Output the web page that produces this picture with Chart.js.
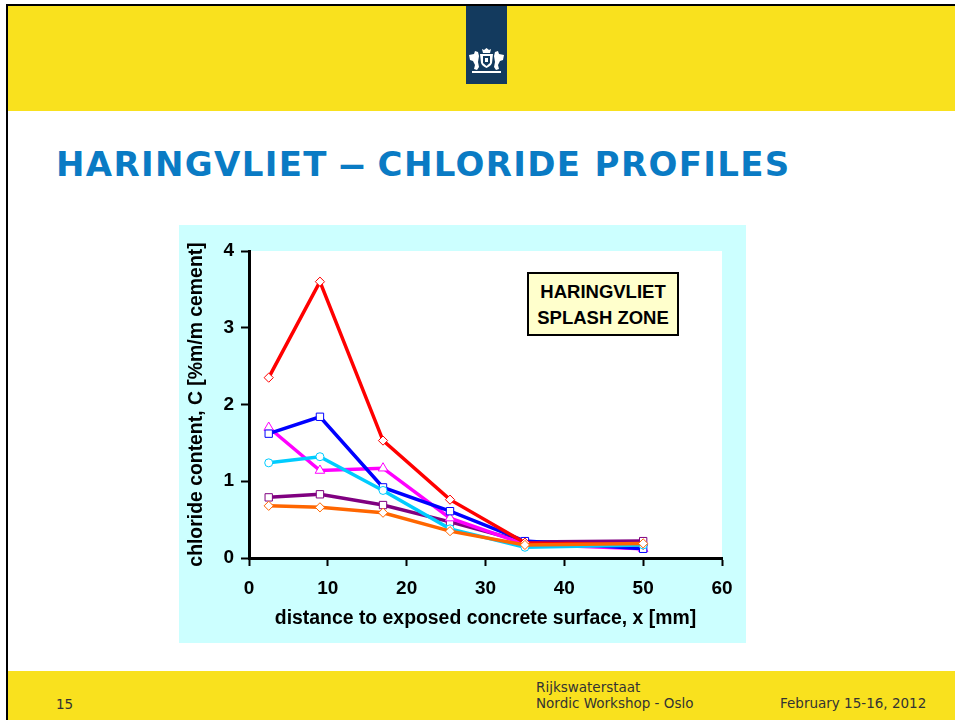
<!DOCTYPE html>
<html><head><meta charset="utf-8">
<script src="https://cdn.jsdelivr.net/npm/chart.js@4"></script>
<style>
html,body{margin:0;padding:0;background:#fff;width:955px;height:720px;overflow:hidden}
div{position:absolute;box-sizing:border-box}
#frameTop{left:6px;top:4px;width:949px;height:2px;background:#000}
#head{left:8px;top:6px;width:947px;height:105px;background:#f9e11e}
#frameLeft{left:6px;top:4px;width:2px;height:716px;background:#000}
#logo{left:466px;top:6px;width:41px;height:78px;background:#133a5e}
#foot{left:8px;top:671px;width:947px;height:49px;background:#f9e11e}
#title{left:56px;top:144px;font:bold 34px "DejaVu Sans",sans-serif;color:#0a7bc4;white-space:nowrap;letter-spacing:1.35px}
#title span{display:inline-block;transform:scaleX(1.7);margin:0 2.5px}
#panel{left:179px;top:225px;width:567px;height:418px;background:#ccffff}
canvas{position:absolute;left:179px;top:225px}
#note{left:527px;top:272px;width:152px;height:64px;background:#ffffcc;border:2px solid #000;font:bold 18.5px/26px "Liberation Sans",Arial,sans-serif;text-align:center;padding-top:5px;color:#000;white-space:nowrap}
.f{font:13.5px/16px "DejaVu Sans",sans-serif;color:#333;white-space:nowrap}
</style></head><body>
<div id="frameTop"></div><div id="head"></div><div id="frameLeft"></div>
<div id="logo"><svg width="41" height="78" viewBox="0 0 41 78">
<g fill="#fff">
<path d="M16 43l2 1 2.500-2 2.500 2 2-1-1 4h-7z"/>
<path d="M14 48h13l-1 9c-1 3-4 4-5.500 5-1.500-1-4.500-2-5.500-5z"/>
<path d="M3 49l5-1 1-3 3 1 1 4-1 6 1 5-2 3-3-1 1-4-2-4-3-1zM38 49l-5-1-1-3-3 1-1 4 1 6-1 5 2 3 3-1-1-4 2-4 3-1z"/>
<path d="M6 65h29v2H6z"/>
</g>
<path d="M17 50h7v7l-3.500 3-3.500-3z" fill="#133a5e"/><path d="M19 52h3v4h-3z" fill="#fff"/></svg></div>
<div id="title">HARINGVLIET <span>–</span> CHLORIDE PROFILES</div>
<div id="panel"></div>
<canvas id="c" width="567" height="418" style="width:567px;height:418px"></canvas>
<div id="note">HARINGVLIET<br>SPLASH ZONE</div>
<div id="foot"></div>
<div class="f" style="left:56px;top:696px">15</div>
<div class="f" style="left:536px;top:679px">Rijkswaterstaat<br>Nordic Workshop - Oslo</div>
<div class="f" style="left:780px;top:695px">February 15-16, 2012</div>
<script>
const distance = [2.5, 9, 17, 25.5, 35, 50];
const red = [2.35, 3.6, 1.53, 0.76, 0.2, 0.17];
const blue = [1.62, 1.84, 0.92, 0.61, 0.22, 0.12];
const magenta = [1.7, 1.14, 1.17, 0.52, 0.18, 0.12];
const cyan = [1.24, 1.32, 0.88, 0.38, 0.14, 0.17];
const purple = [0.79, 0.83, 0.69, 0.47, 0.21, 0.22];
const orange = [0.68, 0.66, 0.59, 0.35, 0.17, 0.19];
const yTicks = [0, 1, 2, 3, 4];
const xTicks = [0, 10, 20, 30, 40, 50, 60];
const pts = a => a.map((y, i) => ({x: distance[i], y}));
const ds = (label, arr, color, pointStyle, radius) => ({label, data: pts(arr), borderColor: color, backgroundColor: color, showLine: true,
  pointStyle, pointRadius: radius, pointBackgroundColor: '#fff', pointBorderColor: color, pointBorderWidth: 1, borderWidth: 3.5, tension: 0});
const plotBg = {id: 'plotBg', beforeDraw(ch) {const a = ch.chartArea, c = ch.ctx; c.save(); c.fillStyle = '#fff'; c.fillRect(a.left, a.top, a.width, a.height); c.restore();}};
const font = {family: '"Liberation Sans", Arial, sans-serif', weight: 'bold', size: 19};
const titleFont = {...font, size: 19.4};
new Chart(document.getElementById('c'), {
  type: 'scatter',
  plugins: [plotBg],
  data: {datasets: [
    ds('orange', orange, '#ff6600', 'rectRot', 4.6),
    ds('cyan', cyan, '#00ccff', 'circle', 4),
    ds('red', red, '#ff0000', 'rectRot', 4.6),
    ds('blue', blue, '#0000ff', 'rect', 5.2),
    ds('magenta', magenta, '#ff00ff', 'triangle', 5.5),
    ds('purple', purple, '#800080', 'rect', 5.2)
  ]},
  options: {
    responsive: false, animation: false, clip: false,
    layout: {padding: {left: 0, right: 24, top: 26, bottom: 0}},
    plugins: {legend: {display: false}, title: {display: false}, tooltip: {enabled: false}},
    scales: {
      x: {type: 'linear', min: 0, max: 60,
        afterTickToLabelConversion(s){s.ticks = xTicks.map(v => ({value: v, label: String(v)}));},
        grid: {display: true, drawOnChartArea: false, drawTicks: true, tickLength: 8, tickWidth: 2, tickColor: '#000', color: '#000'},
        border: {display: true, color: '#000', width: 3},
        ticks: {color: '#000', font, padding: 11, maxRotation: 0},
        title: {display: true, text: 'distance to exposed concrete surface, x [mm]', color: '#000', font: titleFont, padding: {top: 7, bottom: 13}},
        afterFit(s){s.height = 85;}},
      y: {type: 'linear', min: 0, max: 4,
        afterTickToLabelConversion(s){s.ticks = yTicks.map(v => ({value: v, label: String(v)}));},
        grid: {display: true, drawOnChartArea: false, drawTicks: true, tickLength: 8, tickWidth: 2, tickColor: '#000', color: '#000'},
        border: {display: true, color: '#000', width: 3},
        ticks: {color: '#000', font, padding: 7},
        title: {display: true, text: 'chloride content, C [%m/m cement]', color: '#000', font: titleFont, padding: {top: 6, bottom: 0}},
        afterFit(s){s.width = 70;}}
    }
  }
});
</script>
</body></html>
